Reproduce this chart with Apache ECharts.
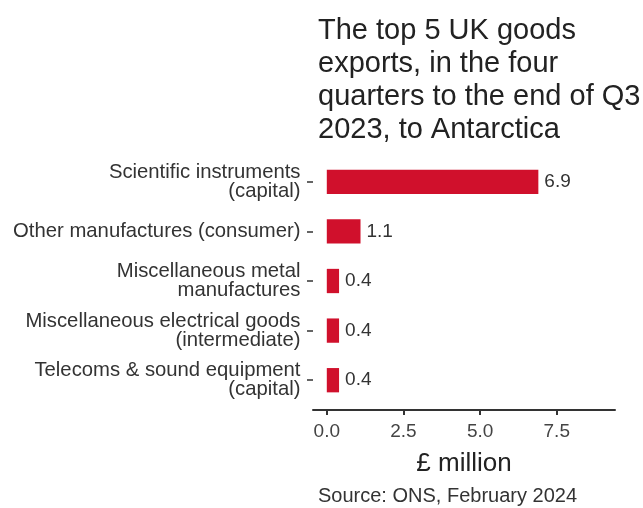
<!DOCTYPE html>
<html>
<head>
<meta charset="utf-8">
<script src="https://cdn.jsdelivr.net/npm/echarts@6/dist/echarts.min.js"></script>
<style>
html,body{margin:0;padding:0;background:#fff;}
#chart{width:643px;height:508px;}
</style>
</head>
<body>
<div id="chart"></div>
<script>
const categories = [
  "Scientific instruments\n(capital)",
  "Other manufactures (consumer)",
  "Miscellaneous metal\nmanufactures",
  "Miscellaneous electrical goods\n(intermediate)",
  "Telecoms & sound equipment\n(capital)"
];
const values = [6.9, 1.1, 0.4, 0.4, 0.4];
const xTicks = [0, 2.5, 5, 7.5];
const titleText = "The top 5 UK goods\nexports, in the four\nquarters to the end of Q3\n2023, to Antarctica";
const sourceText = "Source: ONS, February 2024";
const axisTitle = "£ million";

const FONT = "'Liberation Sans', Arial, sans-serif";
const chart = echarts.init(document.getElementById('chart'), null, {renderer: 'canvas'});
chart.setOption({
  animation: false,
  backgroundColor: '#ffffff',
  title: [
    {
      text: titleText,
      left: 313, top: 9,
      textStyle: {fontFamily: FONT, fontSize: 29, fontWeight: 'normal', color: '#222', lineHeight: 33}
    },
    {
      text: sourceText,
      left: 313, top: 481,
      textStyle: {fontFamily: FONT, fontSize: 20, fontWeight: 'normal', color: '#333'}
    }
  ],
  grid: {left: 313, right: 28, top: 157, bottom: 103, containLabel: false},
  xAxis: {
    type: 'value',
    min: -0.45, max: 9.4,
    offset: 5,
    name: axisTitle,
    nameLocation: 'middle',
    nameGap: 41,
    nameTextStyle: {fontFamily: FONT, fontSize: 26, color: '#222'},
    axisLine: {show: true, lineStyle: {color: '#333', width: 2}},
    axisTick: {show: true, length: 5, customValues: xTicks, lineStyle: {color: '#333', width: 2}},
    axisLabel: {
      customValues: xTicks, margin: 12,
      fontFamily: FONT, fontSize: 19, color: '#444',
      formatter: v => Number(v).toFixed(1)
    },
    splitLine: {show: false}
  },
  yAxis: {
    type: 'category',
    data: categories,
    inverse: true,
    axisLine: {show: false, onZero: false},
    axisTick: {show: true, alignWithLabel: true, length: 6, lineStyle: {color: '#333', width: 1.5}},
    axisLabel: {margin: 12.5, fontFamily: FONT, fontSize: 20.3, color: '#333', lineHeight: 19, align: 'right'}
  },
  series: [{
    type: 'bar',
    data: values,
    barCategoryGap: '51%',
    itemStyle: {color: '#D0102C'},
    label: {
      show: true, position: 'right', distance: 6,
      fontFamily: FONT, fontSize: 19, color: '#333',
      formatter: p => p.value.toFixed(1)
    }
  }]
});
</script>
</body>
</html>
